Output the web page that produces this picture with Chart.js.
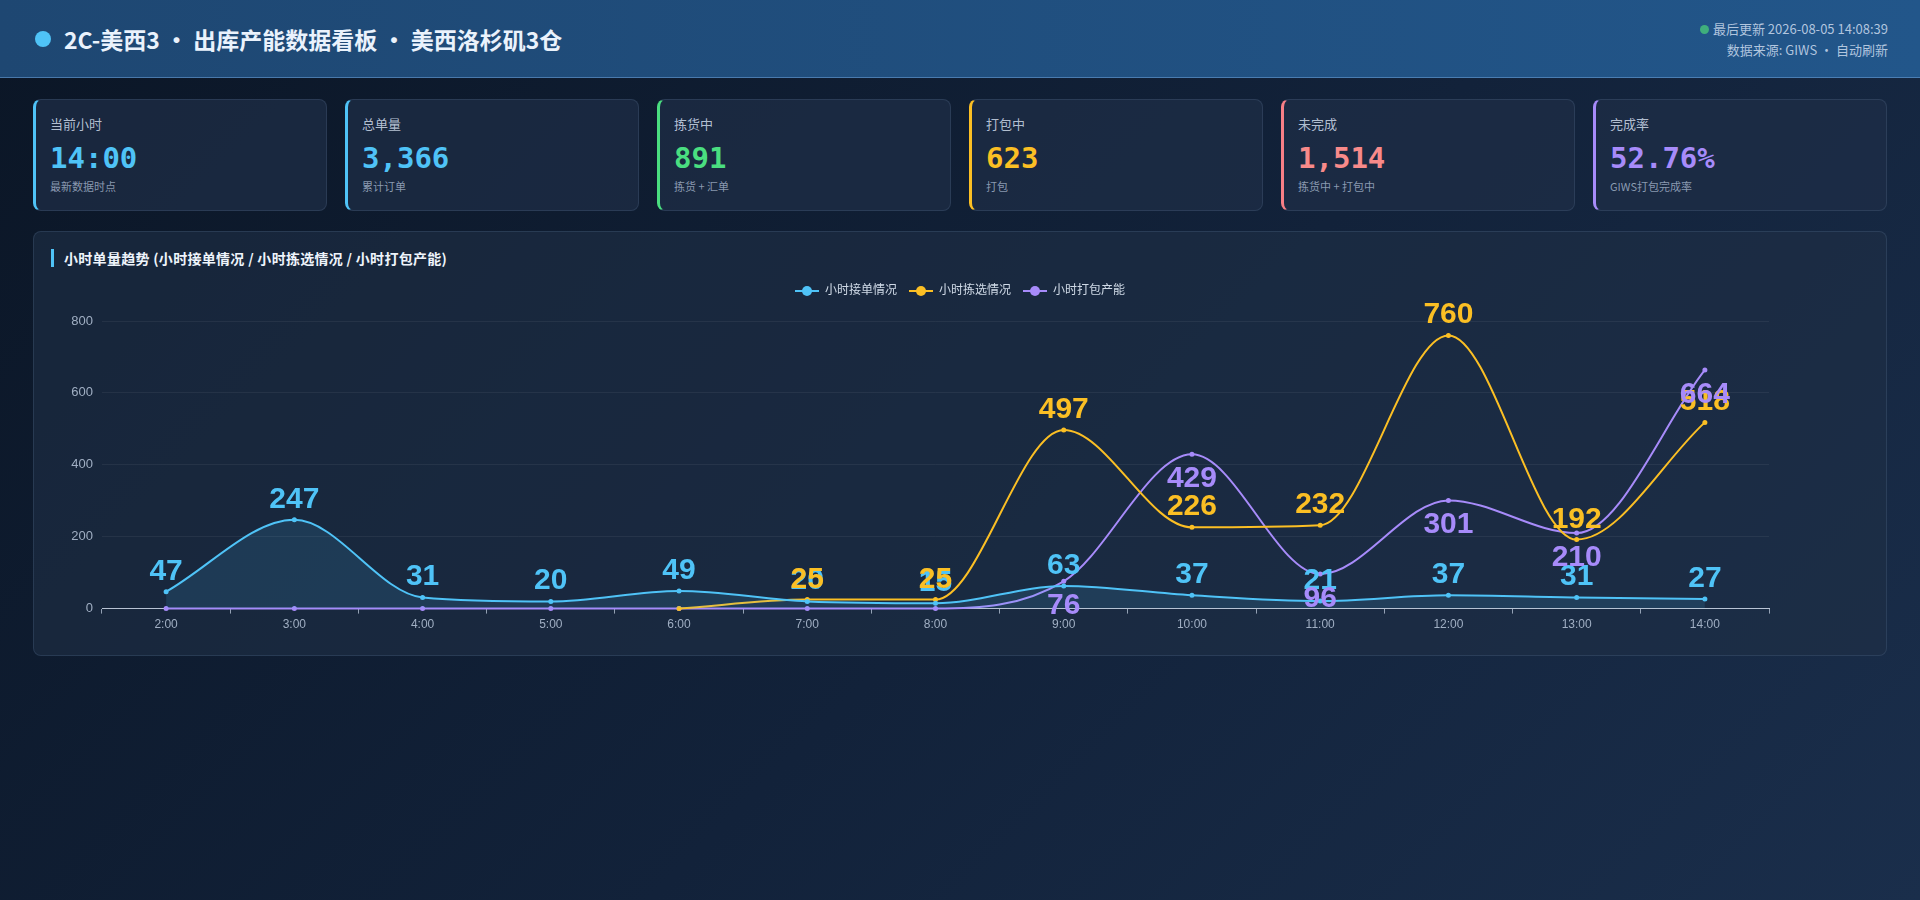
<!DOCTYPE html>
<html lang="zh-CN">
<head>
<meta charset="utf-8">
<title>2C-美西3 出库产能数据看板</title>
<script src="https://cdn.jsdelivr.net/npm/chart.js@4.4.1/dist/chart.umd.min.js"></script>
<style>
  * { box-sizing: border-box; }
  html, body { margin: 0; padding: 0; }
  body {
    width: 1920px; height: 900px; overflow: hidden;
    background: linear-gradient(135deg, #0b1626 0%, #12223a 55%, #1a2e4b 100%);
    font-family: "Noto Sans CJK SC", "Noto Sans", sans-serif;
    color: #e6eef8;
  }
  .header {
    height: 78px; padding: 0 32px 0 35px;
    display: flex; align-items: center; justify-content: space-between;
    background: linear-gradient(90deg, #1e4772 0%, #22568a 100%);
    border-bottom: 1px solid rgba(110, 160, 215, 0.55);
  }
  .title { display: flex; align-items: center; font-size: 23px; font-weight: 700; color: #eaf2fc; }
  .title .dot { width: 16px; height: 16px; border-radius: 50%; background: #4fc3f7; margin-right: 13px; }
  .meta { text-align: right; font-size: 13px; line-height: 21px; color: rgba(205, 220, 238, 0.85); padding-top: 1px; }
  .meta .live { display: inline-block; width: 9px; height: 9px; border-radius: 50%; background: #3fae7c; margin-right: 4px; vertical-align: 0px; }
  .wrap { padding: 0 33px; }
  .cards { display: grid; grid-template-columns: repeat(6, 1fr); gap: 18px; margin-top: 21px; }
  .card {
    height: 112px; border-radius: 8px; padding: 15px 14px;
    background: rgba(30, 46, 70, 0.72);
    border: 1px solid rgba(130, 160, 200, 0.16);
    border-left: 3px solid #4fc3f7;
  }
  .card .lbl { font-size: 13px; line-height: 18px; color: rgba(200, 212, 228, 0.9); }
  .card .val { font-family: "DejaVu Sans Mono", monospace; font-weight: 700; font-size: 29px; line-height: 36px; margin-top: 7px; }
  .card .sub { font-size: 11px; line-height: 16px; margin-top: 2px; color: rgba(160, 176, 198, 0.85); }
  .panel {
    margin-top: 20px; height: 425px; border-radius: 8px; padding: 17px 17px;
    background: rgba(30, 46, 70, 0.62);
    border: 1px solid rgba(130, 160, 200, 0.16);
  }
  .panel h3 { margin: 0; font-size: 14px; line-height: 18px; font-weight: 700; color: #eef4fb; border-left: 3px solid #4fc3f7; padding-left: 10px; letter-spacing: 0.3px; }
  .chart-box { position: relative; height: 367px; margin-top: 4px; }
</style>
</head>
<body>
<div class="header">
  <div class="title"><span class="dot"></span>2C-美西3 · 出库产能数据看板 · 美西洛杉矶3仓</div>
  <div class="meta">
    <div><span class="live"></span>最后更新 2026-08-05 14:08:39</div>
    <div>数据来源: GIWS · 自动刷新</div>
  </div>
</div>
<div class="wrap">
  <div class="cards">
    <div class="card" style="border-left-color:#4fc3f7"><div class="lbl">当前小时</div><div class="val" style="color:#4fc3f7">14:00</div><div class="sub">最新数据时点</div></div>
    <div class="card" style="border-left-color:#4fc3f7"><div class="lbl">总单量</div><div class="val" style="color:#4fc3f7">3,366</div><div class="sub">累计订单</div></div>
    <div class="card" style="border-left-color:#4ade80"><div class="lbl">拣货中</div><div class="val" style="color:#4ade80">891</div><div class="sub">拣货 + 汇单</div></div>
    <div class="card" style="border-left-color:#fbbf24"><div class="lbl">打包中</div><div class="val" style="color:#fbbf24">623</div><div class="sub">打包</div></div>
    <div class="card" style="border-left-color:#f87f86"><div class="lbl">未完成</div><div class="val" style="color:#f88a8a">1,514</div><div class="sub">拣货中 + 打包中</div></div>
    <div class="card" style="border-left-color:#a78bfa"><div class="lbl">完成率</div><div class="val" style="color:#a78bfa">52.76%</div><div class="sub">GIWS打包完成率</div></div>
  </div>
  <div class="panel">
    <h3>小时单量趋势 (小时接单情况 / 小时拣选情况 / 小时打包产能)</h3>
    <div class="chart-box"><canvas id="myChart"></canvas></div>
  </div>
</div>
<script>
// hourly data
const hours = ['2:00', '3:00', '4:00', '5:00', '6:00', '7:00', '8:00', '9:00', '10:00', '11:00', '12:00', '13:00', '14:00']
const jieDan = [47, 247, 31, 20, 49, 20, 15, 63, 37, 21, 37, 31, 27]
const jianXuan = [null, null, null, null, 0, 25, 25, 497, 226, 232, 760, 192, 518]
const daBao = [0, 0, 0, 0, 0, 0, 0, 76, 429, 96, 301, 210, 664]
const seriesNames = ['小时接单情况', '小时拣选情况', '小时打包产能']
const seriesColors = ['#4fc3f7', '#fbbf24', '#a78bfa']
const labelSide = ['top', 'top', 'bottom']

Chart.defaults.font.family = "'Helvetica Neue', Helvetica, Arial, 'Noto Sans CJK SC', sans-serif"

// legend marker: short line with a dot
function legendMark(color) {
  const c = document.createElement('canvas')
  c.width = 24
  c.height = 12
  const g = c.getContext('2d')
  g.strokeStyle = color
  g.lineWidth = 2
  g.beginPath()
  g.moveTo(0, 6)
  g.lineTo(24, 6)
  g.stroke()
  g.fillStyle = color
  g.beginPath()
  g.arc(12, 6, 5, 0, Math.PI * 2)
  g.fill()
  return c
}

// value labels over / under each point
const pointLabels = {
  id: 'pointLabels',
  afterDatasetsDraw(chart) {
    const ctx = chart.ctx
    chart.data.datasets.forEach((ds, i) => {
      const meta = chart.getDatasetMeta(i)
      if (meta.hidden) return
      meta.data.forEach((pt, j) => {
        const v = ds.data[j]
        if (v == null || v === 0) return
        ctx.save()
        ctx.font = "bold 30px 'Liberation Sans', Arial, sans-serif"
        ctx.fillStyle = ds.borderColor
        ctx.textAlign = 'center'
        ctx.textBaseline = 'alphabetic'
        if (labelSide[i] == 'bottom') {
          ctx.fillText(v, pt.x, pt.y + 33)
        } else {
          ctx.fillText(v, pt.x, pt.y - 12)
        }
        ctx.restore()
      })
    })
  }
}

// a bit more room under the legend
const legendGap = {
  id: 'legendGap',
  beforeInit(chart) {
    const fit = chart.legend.fit
    chart.legend.fit = function () {
      fit.bind(chart.legend)()
      this.height += 14
    }
  }
}

const allData = [jieDan, jianXuan, daBao]
const datasets = allData.map((d, i) => ({
  label: seriesNames[i],
  data: d,
  borderColor: seriesColors[i],
  backgroundColor: i == 0 ? 'rgba(79, 195, 247, 0.13)' : seriesColors[i],
  fill: i == 0 ? 'origin' : false,
  borderWidth: 2,
  cubicInterpolationMode: 'monotone',
  tension: 0.4,
  pointRadius: 2.5,
  pointBackgroundColor: seriesColors[i],
  pointBorderWidth: 0,
  pointStyle: 'circle',
  legendImg: legendMark(seriesColors[i])
}))

const ctx = document.getElementById('myChart').getContext('2d')
const myChart = new Chart(ctx, {
  type: 'line',
  data: { labels: hours, datasets: datasets },
  plugins: [pointLabels, legendGap],
  options: {
    responsive: true,
    maintainAspectRatio: false,
    animation: false,
    layout: { padding: { top: 2, bottom: 2, left: 0, right: 0 } },
    plugins: {
      tooltip: { enabled: false },
      legend: {
        position: 'top',
        labels: {
          color: 'rgba(222, 232, 244, 0.92)',
          font: { size: 12 },
          padding: 12,
          usePointStyle: true,
          pointStyleWidth: 24,
          generateLabels(chart) {
            return chart.data.datasets.map((ds, i) => ({
              text: ds.label,
              fillStyle: ds.borderColor,
              strokeStyle: ds.borderColor,
              fontColor: 'rgba(222, 232, 244, 0.92)',
              pointStyle: ds.legendImg,
              lineWidth: 0,
              hidden: !chart.isDatasetVisible(i),
              datasetIndex: i
            }))
          }
        }
      }
    },
    scales: {
      x: {
        offset: true,
        grid: { offset: true, drawOnChartArea: false, drawTicks: true, tickLength: 5, color: 'rgba(200, 212, 230, 0.7)' },
        border: { display: true, color: 'rgba(210, 220, 236, 0.85)', width: 1 },
        ticks: { color: 'rgba(175, 190, 210, 0.9)', font: { size: 12 }, padding: 4 }
      },
      y: {
        beginAtZero: true,
        afterFit(scale) { scale.width = 51 },
        grid: { color: 'rgba(255, 255, 255, 0.06)', drawTicks: false },
        border: { display: false },
        ticks: { color: 'rgba(175, 190, 210, 0.9)', font: { size: 13 }, padding: 9, stepSize: 200 }
      },
      yPad: {
        position: 'right',
        afterFit(scale) { scale.width = 100 },
        grid: { display: false },
        border: { display: false },
        ticks: { display: false }
      }
    }
  }
})
</script>
</body>
</html>
